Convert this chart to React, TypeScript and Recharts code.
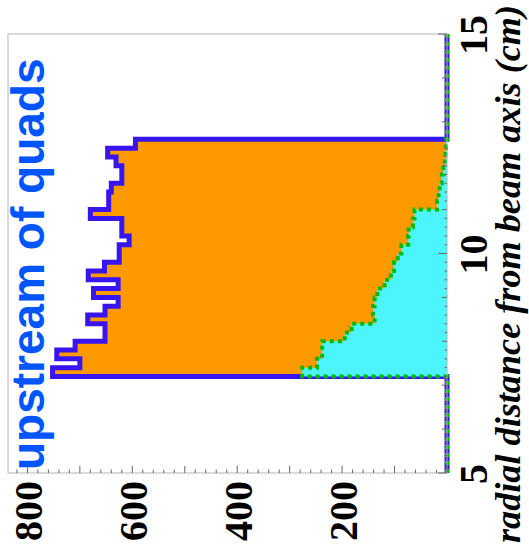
import React from 'react';
import { ComposedChart, Area, XAxis, YAxis, ReferenceArea } from 'recharts';

// radial bins (cm): lower edges, bin width 0.2
const binLowEdges = [7.2, 7.4, 7.6, 7.8, 8.0, 8.2, 8.4, 8.6, 8.8, 9.0, 9.2, 9.4, 9.6, 9.8, 10.0, 10.2, 10.4, 10.6, 10.8, 11.0, 11.2, 11.4, 11.6, 11.8, 12.0, 12.2, 12.4];
const binUpperEnd = 12.6;
const rangeMin = 5;
const rangeMax = 15;

// all particles (orange, blue outline)
const allTracks = [752, 700, 744, 709, 652, 652, 685, 652, 627, 674, 627, 684, 653, 625, 625, 606, 620, 620, 680, 645, 645, 640, 620, 620, 631, 647, 594];
// subset (cyan, green dashed outline)
const subset = [276, 248, 238, 238, 195, 182, 138, 141, 138, 133, 119, 107, 101, 94, 87, 74, 73, 65, 62, 19, 16, 14, 10, 7, 4, 3, 2];

const valueMax = 837;
const radialLabels = [5, 10, 15];
const valueLabels = [200, 400, 600, 800];
const radialTicks = Array.from({ length: 51 }, (_, i) => Math.round((rangeMin + i * 0.2) * 10) / 10);
const valueTicks = Array.from({ length: 42 }, (_, i) => i * 20);

const rows = [
  { r: rangeMin, total: 0, sub: 0 },
  ...binLowEdges.map((r, i) => ({ r, total: allTracks[i], sub: subset[i] })),
  { r: binUpperEnd, total: 0, sub: 0 },
  { r: rangeMax, total: 0, sub: 0 },
];

const TICK = '#666';
const SERIF = '"Liberation Serif", "Times New Roman", serif';
const SANS = '"Liberation Sans", Arial, sans-serif';

const RadialTick = (props: any) => {
  const { x, y, payload } = props;
  const v = payload.value;
  const primary = radialLabels.includes(v);
  const isInt = Math.abs(v - Math.round(v)) < 1e-6;
  const len = primary ? 9 : isInt ? 5 : 2.5;
  return (
    <g>
      <line x1={x} y1={y} x2={x} y2={y - len} stroke={TICK} strokeWidth={1} />
      {primary && (
        <text x={x - 1} y={y + 40} textAnchor="middle" fontFamily={SERIF} fontWeight="bold" fontSize={40} fill="#000">
          {v}
        </text>
      )}
    </g>
  );
};

const ValueTick = (props: any) => {
  const { x, y, payload } = props;
  const v = payload.value;
  const major = v % 100 === 0;
  const len = major ? 7 : 3.5;
  return (
    <g>
      <line x1={x} y1={y} x2={x + len} y2={y} stroke={TICK} strokeWidth={1} />
      {valueLabels.includes(v) && (
        <text x={x - 8} y={y + 15} textAnchor="end" fontFamily={SERIF} fontWeight="bold" fontSize={40} fill="#000">
          {v}
        </text>
      )}
    </g>
  );
};

export default function App() {
  return (
    <div style={{ position: 'absolute', left: 0, top: 0, width: 529, height: 554, overflow: 'hidden', background: '#fff' }}>
      <div
        style={{
          position: 'absolute',
          left: 0,
          top: 0,
          width: 554,
          height: 529,
          transformOrigin: '0 0',
          transform: 'translateY(554px) rotate(-90deg)',
        }}
      >
        <ComposedChart width={554} height={529} data={rows} margin={{ top: 8, right: 34, bottom: 0, left: 0 }}>
          <XAxis
            dataKey="r"
            type="number"
            domain={[rangeMin, rangeMax]}
            ticks={radialTicks}
            interval={0}
            height={82}
            tickSize={0}
            tickMargin={0}
            tickLine={false}
            axisLine={false}
            tick={RadialTick}
          />
          <YAxis
            type="number"
            domain={[0, valueMax]}
            ticks={valueTicks}
            interval={0}
            width={81}
            tickSize={0}
            tickMargin={0}
            tickLine={false}
            axisLine={false}
            tick={ValueTick}
          />
          <Area
            dataKey="total"
            type="stepAfter"
            fill="#ff9900"
            fillOpacity={1}
            stroke="#3814f0"
            strokeWidth={5}
            strokeLinejoin="miter"
            isAnimationActive={false}
            dot={false}
            activeDot={false}
          />
          <Area
            dataKey="sub"
            type="stepAfter"
            fill="#4cf5fc"
            fillOpacity={1}
            stroke="#00bb00"
            strokeWidth={4}
            strokeDasharray="4 4"
            isAnimationActive={false}
            dot={false}
            activeDot={false}
          />
          <ReferenceArea x1={rangeMin} x2={rangeMax} y1={0} y2={valueMax} fill="none" stroke="#b4b4b4" strokeWidth={1} />
        </ComposedChart>
        <svg width={554} height={529} style={{ position: 'absolute', left: 0, top: 0, pointerEvents: 'none' }}>
          <text x={84} y={44} fontFamily={SANS} fontWeight="bold" fontSize={46} fill="#0055ff">
            upstream of quads
          </text>
          <text
            x={11}
            y={520}
            fontFamily={SERIF}
            fontWeight="bold"
            fontStyle="italic"
            fontSize={35.5}
            fill="#000"
            textLength={538}
            lengthAdjust="spacingAndGlyphs"
          >
            radial distance from beam axis (cm)
          </text>
        </svg>
      </div>
    </div>
  );
}
